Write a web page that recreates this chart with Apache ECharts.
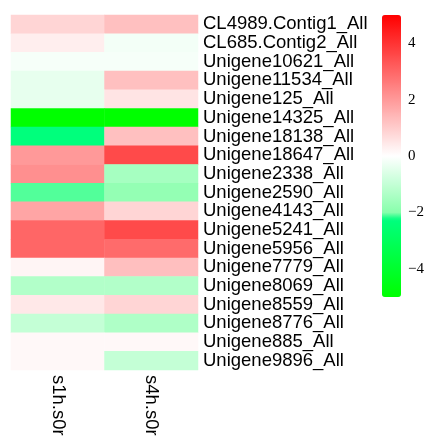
<!DOCTYPE html>
<html>
<head>
<meta charset="utf-8">
<script src="https://cdn.jsdelivr.net/npm/echarts@6/dist/echarts.min.js"></script>
<style>html,body{margin:0;padding:0;background:#fff}#c{width:429px;height:439px}</style>
</head>
<body>
<div id="c"></div>
<script>
const genes = ["CL4989.Contig1_All","CL685.Contig2_All","Unigene10621_All","Unigene11534_All","Unigene125_All","Unigene14325_All","Unigene18138_All","Unigene18647_All","Unigene2338_All","Unigene2590_All","Unigene4143_All","Unigene5241_All","Unigene5956_All","Unigene7779_All","Unigene8069_All","Unigene8559_All","Unigene8776_All","Unigene885_All","Unigene9896_All"];
const samples = ["s1h.s0r","s4h.s0r"];
const s1h = [0.82,0.33,-0.15,-0.4,-0.4,-5,-2.3,2.0,2.2,-2.1,1.76,3.0,3.0,0.2,-1.3,0.45,-1.0,0.14,0.14];
const s4h = [1.24,-0.2,-0.15,1.24,0.53,-5,1.24,3.55,-1.5,-1.8,0.82,3.55,2.9,1.25,-1.3,0.82,-1.35,0.14,-1.0];
const colorTicks = [-4,-2,0,2,4];

// palette anchors (value, colour)
const anchors = [[-5,[0,255,0]],[-2.25,[0,255,126]],[-2.0,[136,255,172]],[0,[255,255,255]],[5,[255,0,0]]];
function colAt(v){
  for(let i=0;i<anchors.length-1;i++){
    const a=anchors[i],b=anchors[i+1];
    if(v<=b[0]+1e-9){
      const t=(v-a[0])/(b[0]-a[0]);
      const c=a[1].map((x,k)=>Math.round(x+(b[1][k]-x)*t));
      return 'rgb('+c.join(',')+')';
    }
  }
  return 'rgb(255,0,0)';
}
const palette=[];
for(let i=0;i<=200;i++) palette.push(colAt(-5+i*0.05));

const data=[];
genes.forEach((g,i)=>{ data.push([0,i,s1h[i]]); data.push([1,i,s4h[i]]); });

const chart = echarts.init(document.getElementById('c'));
chart.setOption({
  animation:false,
  backgroundColor:'#fff',
  grid:[
    {left:11,top:15,width:187,height:355},
    {left:382,top:15,width:19,height:282}
  ],
  xAxis:[
    {type:'category',gridIndex:0,data:samples,position:'bottom',
     axisLine:{show:false},axisTick:{show:false},splitLine:{show:false},
     axisLabel:{interval:0,rotate:-90,margin:5,fontSize:18.5,color:'#000',fontFamily:'Liberation Sans'}},
    {type:'value',gridIndex:1,show:false}
  ],
  yAxis:[
    {type:'category',gridIndex:0,data:genes,inverse:true,position:'right',
     axisLine:{show:false},axisTick:{show:false},splitLine:{show:false},
     axisLabel:{interval:0,margin:5,fontSize:18.5,color:'#000',fontFamily:'Liberation Sans'}},
    {type:'value',gridIndex:1,position:'right',min:-5,max:5,interval:1,
     axisLine:{show:false},axisTick:{show:false},splitLine:{show:false},
     axisLabel:{margin:7,fontSize:15,color:'#000',fontFamily:'Liberation Serif',
       formatter:v=>colorTicks.includes(v)?(v<0?'\u2212'+Math.abs(v):String(v)):''}}
  ],
  visualMap:{
    type:'continuous',min:-5,max:5,seriesIndex:0,calculable:false,
    left:382,top:15,itemWidth:19,itemHeight:282,padding:0,
    inRange:{color:palette},text:null,showLabel:false
  },
  series:[{
    type:'heatmap',xAxisIndex:0,yAxisIndex:0,data:data,
    itemStyle:{borderWidth:0},emphasis:{disabled:true}
  }]
});
</script>
</body>
</html>
